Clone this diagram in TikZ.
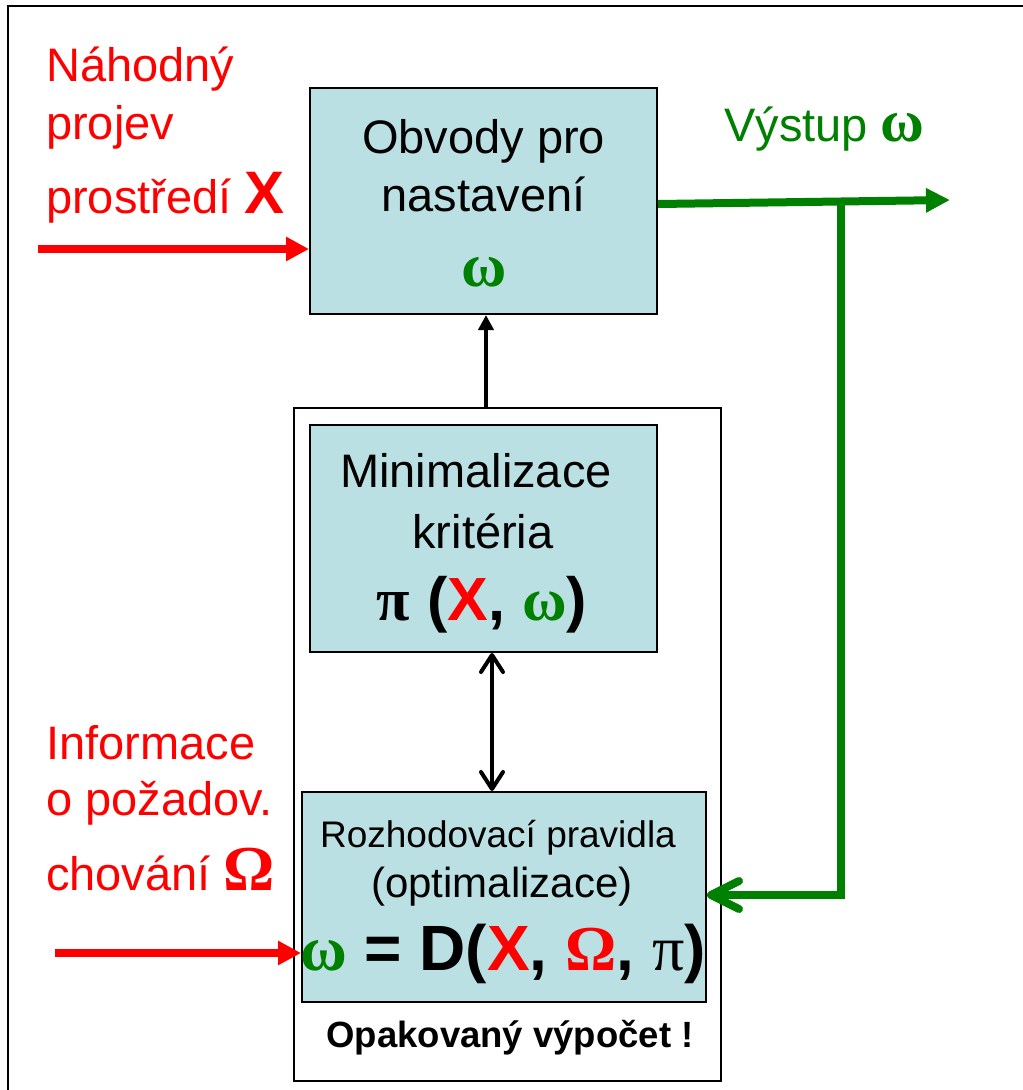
\documentclass[tikz,border=0pt]{standalone}
\usepackage{fontspec}
\setmainfont{Liberation Sans}
\newfontfamily\serifw{Liberation Serif}
\usetikzlibrary{arrows.meta}
\definecolor{boxblue}{RGB}{187,224,227}
\definecolor{gr}{RGB}{0,128,0}
\definecolor{rd}{RGB}{255,0,0}
\newcommand{\fsz}[1]{\fontsize{#1}{#1}\selectfont}
\begin{document}
\begin{tikzpicture}[x=1pt,y=-1pt,
  blockbox/.style={draw=black, line width=2pt, fill=boxblue, inner sep=0pt},
  txt/.style={inner sep=0pt, font=\fsz{47}},
  redarrow/.style={draw=rd, line width=8pt, -{Triangle[length=23pt,width=23pt]}},
  greenline/.style={draw=gr, line width=8pt},
  blackarrow/.style={draw=black, line width=4pt}
]
\useasboundingbox (0,0) rectangle (1023,1090);
\fill[white] (0,0) rectangle (1023,1090);
% outer frame (partly visible)
\draw[line width=2pt] (8,1095) -- (8,6) -- (1030,6);

% boxes
\node[draw=black, line width=2pt, minimum width=427pt, minimum height=673pt, inner sep=0pt] (outer) at (507.5,744.5) {};
\node[blockbox, minimum width=347pt, minimum height=226pt] (top) at (483.5,201) {};
\node[blockbox, minimum width=347pt, minimum height=227pt] (min) at (483.5,538.5) {};
\node[blockbox, minimum width=404pt, minimum height=210pt] (roz) at (504,897) {};

% top box text
\node[txt, anchor=base] (t1) at (483.5,153) {Obvody pro};
\node[txt, anchor=base] (t2) at (483.5,211) {nastavení};
\node[txt, anchor=base, text=gr, font=\serifw\bfseries\fsz{62}] (t3) at (484,286) {ω};

% min box text
\node[txt, anchor=base] (m1) at (476,487) {Minimalizace};
\node[txt, anchor=base] (m2) at (483,548) {kritéria};
\node[txt, anchor=base, font=\bfseries\fsz{61}] (m3) at (482,620)
  {{\serifw π} (\textcolor{rd}{X}, {\serifw\textcolor{gr}{ω}})};

% roz box text
\node[txt, anchor=base, font=\fsz{37}] (r1) at (498,847) {Rozhodovací pravidla};
\node[txt, anchor=base, font=\fsz{42}] (r2) at (502,897) {(optimalizace)};
\node[txt, anchor=base, font=\bfseries\fsz{64}] (r3) at (503,970)
  {{\serifw\textcolor{gr}{ω}} = D(\textcolor{rd}{X}, {\serifw\textcolor{rd}{Ω}}, {\serifw\mdseries π})};

\node[txt, anchor=base, font=\bfseries\fsz{36.5}] (op) at (510,1047) {Opakovaný výpočet !};

% left labels
\node[txt, anchor=base west, text=rd] (a1) at (46,81) {Náhodný};
\node[txt, anchor=base west, text=rd] (a2) at (46,139) {projev};
\node[txt, anchor=base west, text=rd] (a3) at (46,213) {prostředí {\bfseries\fsz{60}X}};

\node[txt, anchor=base west, text=rd] (b1) at (46,759) {Informace};
\node[txt, anchor=base west, text=rd] (b2) at (46,815) {o požadov.};
\node[txt, anchor=base west, text=rd] (b3) at (46,890) {chování {\serifw\bfseries\fsz{64}Ω}};

\node[txt, anchor=base west, text=gr] (v1) at (724,141) {Výstup {\serifw\bfseries\fsz{60}ω}};

% coordinates for free ends
\coordinate (inA) at (38,249);
\coordinate (inB) at (55,953);
\coordinate (gout) at (950,200);
\coordinate (br) at (841,201.5);

% red input arrows
\draw[redarrow] (inA) -- (inA -| top.west);
\draw[redarrow] (inB) -- (inB -| roz.west);

% black arrows
\draw[blackarrow, -{Triangle[length=15pt,width=15pt]}] ([xshift=2.5pt]top.south |- outer.north) -- ([xshift=2.5pt]top.south);
\draw[blackarrow, {Straight Barb[length=17pt,width=22pt,line cap=round,line join=round]}-{Straight Barb[length=17pt,width=22pt,line cap=round,line join=round]}]
  ([xshift=8.5pt]min.south) -- ([xshift=8.5pt]min.south |- roz.north);

% green output
\draw[greenline, -{Triangle[length=24pt,width=23pt]}] ([yshift=-3pt]top.east) -- (gout);
\draw[greenline, line join=miter, -{Straight Barb[length=28pt,width=28pt,line cap=round,line join=round]}]
  (br) |- ([yshift=2pt]roz.east);
\end{tikzpicture}
\end{document}
